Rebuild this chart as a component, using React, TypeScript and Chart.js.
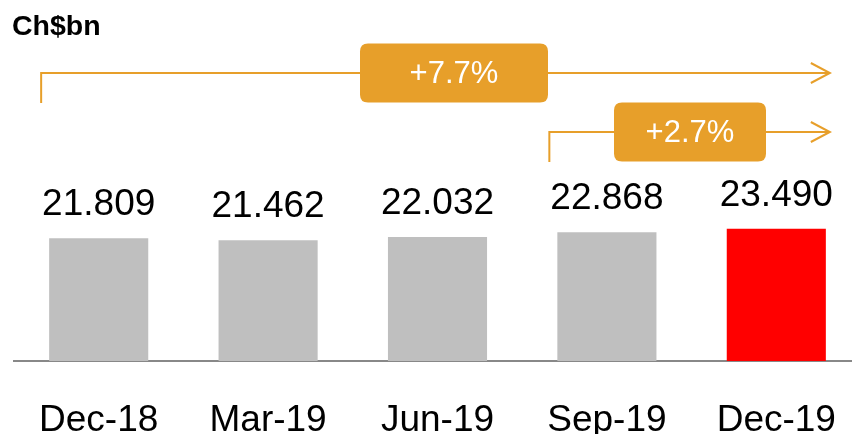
import React, { useEffect, useRef } from "react";
import { Chart, registerables } from "chart.js";

Chart.register(...registerables);

const categories = ["Dec-18", "Mar-19", "Jun-19", "Sep-19", "Dec-19"];
const values = [21.809, 21.462, 22.032, 22.868, 23.49];
const barColors = ["#BFBFBF", "#BFBFBF", "#BFBFBF", "#BFBFBF", "#FF0000"];
const unitLabel = "Ch$bn";
const ORANGE = "#E79F2A";

function roundRect(ctx: CanvasRenderingContext2D, x: number, y: number, w: number, h: number, r: number) {
  ctx.beginPath();
  ctx.moveTo(x + r, y);
  ctx.lineTo(x + w - r, y);
  ctx.quadraticCurveTo(x + w, y, x + w, y + r);
  ctx.lineTo(x + w, y + h - r);
  ctx.quadraticCurveTo(x + w, y + h, x + w - r, y + h);
  ctx.lineTo(x + r, y + h);
  ctx.quadraticCurveTo(x, y + h, x, y + h - r);
  ctx.lineTo(x, y + r);
  ctx.quadraticCurveTo(x, y, x + r, y);
  ctx.closePath();
}

const overlay = {
  id: "overlay",
  afterDatasetsDraw(chart: any) {
    const ctx = chart.ctx as CanvasRenderingContext2D;
    const meta = chart.getDatasetMeta(0);
    ctx.save();
    // value labels
    ctx.fillStyle = "#000";
    ctx.font = "37px 'Liberation Sans', Arial, sans-serif";
    ctx.textAlign = "center";
    ctx.textBaseline = "alphabetic";
    meta.data.forEach((bar: any, i: number) => {
      ctx.fillText(values[i].toFixed(3), bar.x, bar.y - 23);
    });
    // unit label
    ctx.font = "bold 28.5px 'Liberation Sans', Arial, sans-serif";
    ctx.textAlign = "left";
    ctx.fillText(unitLabel, 12, 35);

    const drawBracket = (fromIdx: number, lineY: number, boxCx: number, boxW: number, boxH: number, text: string) => {
      const b0 = meta.data[fromIdx];
      const bl = meta.data[meta.data.length - 1];
      const x0 = b0.x - b0.width / 2 - 8;
      const x1 = bl.x + bl.width / 2 + 4;
      ctx.strokeStyle = ORANGE;
      ctx.lineWidth = 2;
      ctx.beginPath();
      ctx.moveTo(x0, lineY + 30);
      ctx.lineTo(x0, lineY);
      ctx.lineTo(x1, lineY);
      ctx.stroke();
      ctx.beginPath();
      ctx.moveTo(x1 - 19, lineY - 10);
      ctx.lineTo(x1, lineY);
      ctx.lineTo(x1 - 19, lineY + 10);
      ctx.stroke();
      ctx.fillStyle = ORANGE;
      roundRect(ctx, boxCx - boxW / 2, lineY - boxH / 2, boxW, boxH, 8);
      ctx.fill();
      ctx.fillStyle = "#fff";
      ctx.font = "31px 'Liberation Sans', Arial, sans-serif";
      ctx.textAlign = "center";
      ctx.textBaseline = "middle";
      ctx.fillText(text, boxCx, lineY + 1);
    };
    const g1 = ((values[4] / values[0] - 1) * 100).toFixed(1);
    const g2 = ((values[4] / values[3] - 1) * 100).toFixed(1);
    drawBracket(0, 73, 454, 188, 59, "+" + g1 + "%");
    drawBracket(3, 132, 690, 152, 59, "+" + g2 + "%");
    ctx.restore();
  },
};

export default function App() {
  const ref = useRef<HTMLCanvasElement>(null);
  useEffect(() => {
    if (!ref.current) return;
    const chart = new Chart(ref.current, {
      type: "bar",
      data: {
        labels: categories,
        datasets: [
          {
            data: values,
            backgroundColor: barColors,
            barPercentage: 0.585,
            categoryPercentage: 1,
          },
        ],
      },
      options: {
        responsive: false,
        animation: false,
        devicePixelRatio: 1,
        layout: { padding: { left: 14, right: 9, top: 26, bottom: 0 } },
        plugins: { legend: { display: false }, tooltip: { enabled: false } },
        scales: {
          x: {
            grid: { display: false, drawTicks: false },
            border: { display: true, color: "#888888", width: 2 },
            ticks: {
              color: "#000",
              font: { family: "'Liberation Sans', Arial, sans-serif", size: 37 },
              padding: 38,
              maxRotation: 0,
              autoSkip: false,
            },
            afterFit: (scale: any) => {
              scale.height = 73;
              scale.paddingLeft = 0;
              scale.paddingRight = 0;
            },
          },
          y: {
            display: false,
            min: 0,
            max: 59.5,
          },
        },
      },
      plugins: [overlay],
    });
    return () => chart.destroy();
  }, []);
  return (
    <div style={{ position: "fixed", left: 0, top: 0, width: 852, height: 434, overflow: "hidden", background: "#fff" }}>
      <canvas ref={ref} width={870} height={434} style={{ display: "block" }} />
    </div>
  );
}
